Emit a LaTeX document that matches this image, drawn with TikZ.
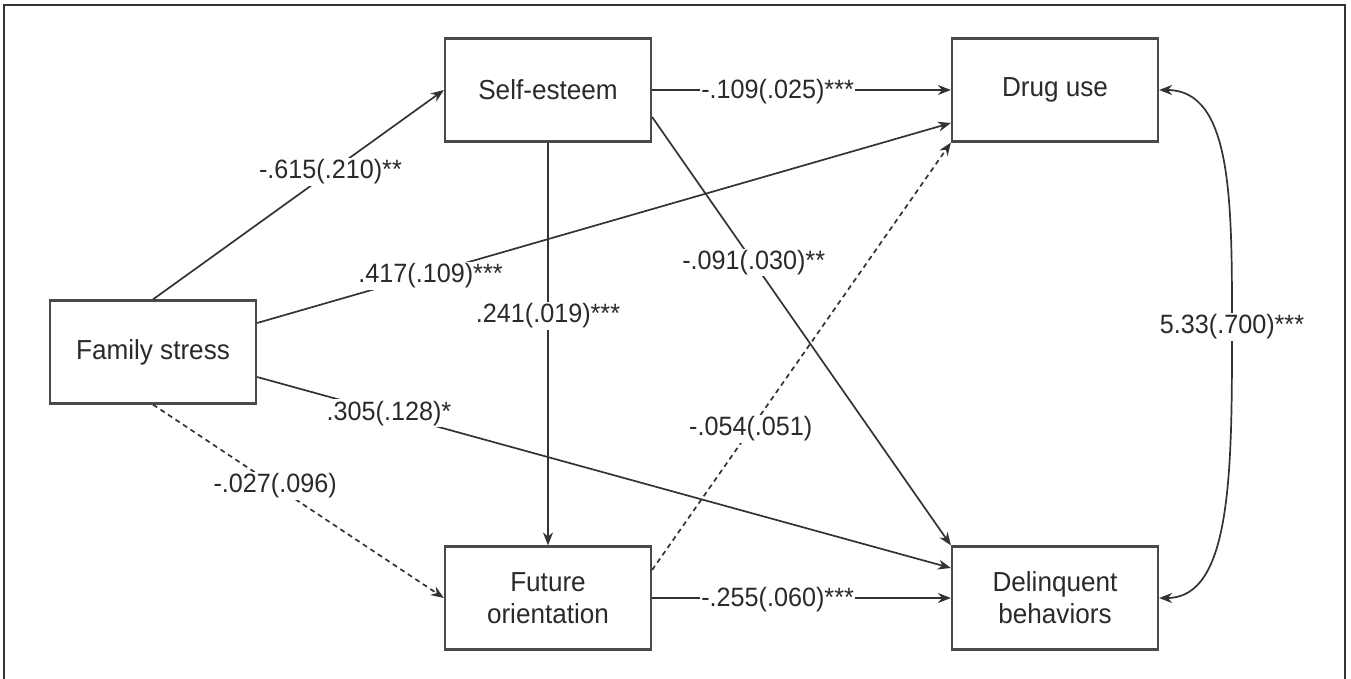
\documentclass[tikz,border=0pt]{standalone}
\usepackage{fontspec}
\setmainfont{Liberation Sans}[FakeStretch=0.95]
\usetikzlibrary{arrows.meta}
\definecolor{ln}{HTML}{333333}
\definecolor{bx}{HTML}{4A4A4A}
\definecolor{tx}{HTML}{2A2A2A}
\tikzset{
  varbox/.style={draw=bx, line width=2.2pt, minimum width=206pt, minimum height=103pt,
    align=center, font=\fontsize{27.5}{32}\selectfont, text=tx, inner sep=0pt},
  path/.style={draw=ln, line width=1.7pt, -{Stealth[length=13pt,width=10pt]}},
  dpath/.style={path, dash pattern=on 5pt off 4pt},
  lbl/.style={fill=white, inner sep=1.5pt, font=\fontsize{26.5}{30}\selectfont, text=tx},
}
\begin{document}
\begin{tikzpicture}[x=1pt,y=-1pt]
\useasboundingbox (0,0) rectangle (1351,679);
\draw[line width=2.2pt, color=ln] (4,679) -- (4,5) -- (1345,5) -- (1345,679);

\node[varbox] (fam)  at (153,352) {Family stress};
\node[varbox] (self) at (548,90)  {Self-esteem};
\node[varbox] (drug) at (1055,90) {Drug use};
\node[varbox] (fut)  at (548,598) {Future\\orientation};
\node[varbox] (del)  at (1055,598) {Delinquent\\behaviors};

\draw[path] (fam.north) -- node[lbl, pos=0.61] {-.615(.210)**} (self.west);
\draw[path] (self.east) -- node[lbl, pos=0.42, yshift=-2pt] {-.109(.025)***} (drug.west);
\draw[path] ([yshift=29pt]fam.east) -- node[lbl, pos=0.25, yshift=-3pt] {.417(.109)***} ([yshift=-33pt]drug.west);
\draw[path] ([yshift=-25pt]fam.east) -- node[lbl, pos=0.19] {.305(.128)*} ([yshift=30pt]del.west);
\draw[dpath] (fam.south) -- node[lbl, pos=0.42] {-.027(.096)} (fut.west);
\draw[path] (self.south) -- node[lbl, pos=0.43] {.241(.019)***} (fut.north);
\draw[path] ([yshift=-27pt]self.east) -- node[lbl, pos=0.34] {-.091(.030)**} (del.north west);
\draw[dpath] ([yshift=28pt]fut.east) -- node[lbl, pos=0.33] {-.054(.051)} (drug.south west);
\draw[path] (fut.east) -- node[lbl, pos=0.42, yshift=-2pt] {-.255(.060)***} (del.west);

\draw[draw=ln, line width=1.7pt, {Stealth[length=13pt,width=10pt]}-{Stealth[length=13pt,width=10pt]}]
  (drug.east) .. controls (1232,90) and (1232,200) .. (1232,327)
  node[lbl] {5.33(.700)***}
  .. controls (1232,470) and (1232,598) .. (del.east);
\end{tikzpicture}
\end{document}
